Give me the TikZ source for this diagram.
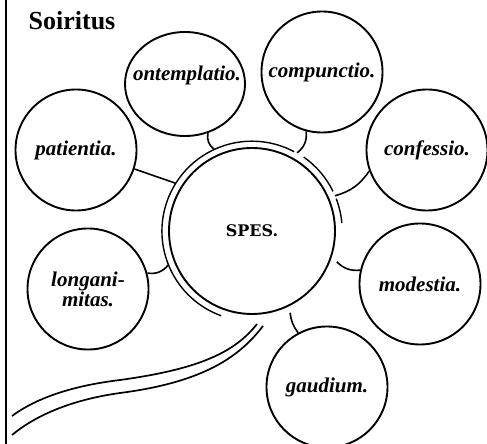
\documentclass[tikz,border=0pt]{standalone}
\usepackage{fontspec}
\setmainfont{Liberation Serif}
\newfontfamily\spesfont{DejaVu Serif}
\usetikzlibrary{shapes.geometric}
\begin{document}
\begin{tikzpicture}[x=1pt,y=1pt,
  sat/.style={circle, draw, line width=1.9pt, minimum size=121pt, inner sep=0pt},
  lab/.style={font=\fontsize{21}{20}\selectfont\bfseries\itshape, align=center},
  conn/.style={line width=1.6pt},
  ringline/.style={line width=1.4pt},
  stream/.style={line width=1.7pt}]
\useasboundingbox (0,0) rectangle (487,444);
% left frame line
\coordinate (ftop) at (6,444);
\coordinate (fbot) at (6,0);
\draw[line width=2.4pt] (ftop) -- (fbot);
% title
\node[font=\fontsize{26}{26}\selectfont\bfseries, inner sep=0pt] (title) at (72,423) {Soiritus};
% centre
\node[circle, draw, line width=1.9pt, minimum size=166pt, inner sep=0pt,
      font=\spesfont\bfseries\fontsize{16}{16}\selectfont] (spes) at (252,213) {SPES.};
\node[circle, minimum size=180pt, inner sep=0pt] (ring) at (252,213) {};
\draw[ringline] (ring.250) arc[start angle=250, end angle=62, radius=90pt];
\draw[ringline] (ring.55) arc[start angle=55, end angle=26, radius=90pt];
\draw[ringline] (ring.21) arc[start angle=21, end angle=5, radius=90pt];
% satellites
\node[ellipse, draw, line width=1.9pt, minimum width=120pt, minimum height=104pt, inner sep=0pt] (cont) at (185,360) {};
\node[lab] (contl) at (187,369) {ontemplatio.};
\node[sat, lab] (comp) at (322,372) {compunctio.};
\node[sat, lab] (conf) at (427,294) {confessio.};
\node[sat, lab] (pat) at (76,294) {patientia.};
\node[sat, lab] (long) at (88,155) {longani-\\mitas.};
\node[sat, lab] (mod) at (420,160) {modestia.};
\node[sat, lab] (gaud) at (327,57) {gaudium.};
% connectors
\draw[conn] (cont.-65) to[bend right=30] (ring.115);
\draw[conn] (comp.-105) to[bend left=30] (ring.60);
\draw[conn] (conf.200) to[bend left=20] (ring.23);
\draw[conn] (pat.-18) -- (ring.148);
\draw[conn] (long.15) to[bend right=30] (ring.202);
\draw[conn] (mod.167) to[bend left=25] (ring.-20);
\draw[conn] (gaud.118) to[bend left=15] (ring.-65);
% stream
\coordinate (su0) at (257,120);
\coordinate (su1) at (120,64);
\coordinate (su2) at (12,28);
\coordinate (sl0) at (263,118);
\coordinate (sl1) at (120,51);
\coordinate (sl2) at (12,9);
\draw[stream] (su0) .. controls (235,92) and (200,75) .. (su1) .. controls (70,58) and (35,45) .. (su2);
\draw[stream] (sl0) .. controls (240,88) and (205,62) .. (sl1) .. controls (70,44) and (35,28) .. (sl2);
\end{tikzpicture}
\end{document}
